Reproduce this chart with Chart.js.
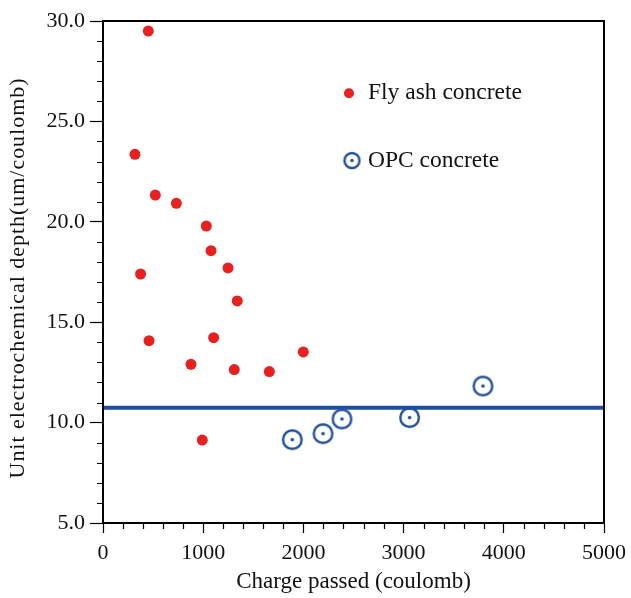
<!DOCTYPE html>
<html>
<head>
<meta charset="utf-8">
<script src="https://cdn.jsdelivr.net/npm/chart.js@4"></script>
<style>
  body { margin: 0; background: #fff; }
  canvas { display: block; }
</style>
</head>
<body>
<canvas id="myChart" width="631" height="598"></canvas>
<script>
// values
const flyAshX = [452, 319, 522, 732, 1031, 1078, 1248, 375, 1340, 459, 1104, 878, 1310, 1660, 1999, 991];
const flyAshY = [29.5, 23.36, 21.33, 20.92, 19.79, 18.56, 17.7, 17.4, 16.06, 14.08, 14.23, 12.9, 12.64, 12.54, 13.52, 9.13];
const opcX = [1889, 2196, 2385, 3060, 3792];
const opcY = [9.15, 9.45, 10.18, 10.25, 11.82];
const limitX = [0, 5000];
const limitY = [10.74, 10.74];
const seriesLabels = ['Fly ash concrete', 'OPC concrete'];
const xTitle = 'Charge passed (coulomb)';
const yTitle = 'Unit electrochemical depth(um/coulomb)';

const RED = '#e8201f';
const BLUE = '#1f4ea0';
const FONT = "'Liberation Serif', 'Times New Roman', serif";

const toPoints = (xs, ys) => xs.map((x, i) => ({ x: x, y: ys[i] }));

// ring with a dot for the OPC marker
const makeRing = (r) => {
  const c = document.createElement('canvas');
  const s = Math.ceil(r * 2 + 4);
  c.width = s; c.height = s;
  const g = c.getContext('2d');
  g.strokeStyle = BLUE;
  g.lineWidth = 2.4;
  g.beginPath();
  g.arc(s / 2, s / 2, r, 0, Math.PI * 2);
  g.stroke();
  g.fillStyle = BLUE;
  g.beginPath();
  g.arc(s / 2, s / 2, 1.8, 0, Math.PI * 2);
  g.fill();
  return c;
};
const ring = makeRing(9.3);
const legendRing = makeRing(7.5);

const frameAndTicks = {
  id: 'frameAndTicks',
  afterDraw(chart) {
    const ctx = chart.ctx;
    const a = chart.chartArea;
    const xs = chart.scales.x, ys = chart.scales.y;
    ctx.save();
    ctx.strokeStyle = '#000';
    ctx.lineWidth = 2;
    ctx.strokeRect(a.left, a.top, a.right - a.left, a.bottom - a.top);
    ctx.lineWidth = 1.2;
    ctx.beginPath();
    for (let v = 5; v <= 30; v += 1) {
      if (v % 5 === 0) continue;
      const y = Math.round(ys.getPixelForValue(v)) + 0.5;
      ctx.moveTo(a.left - 6, y); ctx.lineTo(a.left, y);
    }
    for (let v = 0; v <= 5000; v += 200) {
      if (v % 1000 === 0) continue;
      const x = Math.round(xs.getPixelForValue(v)) + 0.5;
      ctx.moveTo(x, a.bottom); ctx.lineTo(x, a.bottom + 6);
    }
    ctx.stroke();

    // y title, stretched along its length like the original
    ctx.fillStyle = '#111';
    ctx.font = '22px ' + FONT;
    const w = ctx.measureText(yTitle).width;
    if ('letterSpacing' in ctx) ctx.letterSpacing = ((400 - w) / (yTitle.length - 1)).toFixed(2) + 'px';
    ctx.translate(24, 278);
    ctx.rotate(-Math.PI / 2);
    ctx.textAlign = 'center';
    ctx.textBaseline = 'alphabetic';
    ctx.fillText(yTitle, 0, 0);
    ctx.restore();

    // legend inside the plot
    ctx.save();
    const lx = xs.getPixelForValue(2455), l1 = ys.getPixelForValue(26.4), l2 = ys.getPixelForValue(23.05);
    ctx.fillStyle = RED;
    ctx.beginPath();
    ctx.arc(lx, l1, 5, 0, Math.PI * 2);
    ctx.fill();
    ctx.drawImage(legendRing, lx + 3 - legendRing.width / 2, l2 - legendRing.height / 2);
    ctx.fillStyle = '#111';
    ctx.font = '23.5px ' + FONT;
    ctx.textBaseline = 'middle';
    ctx.fillText(seriesLabels[0], lx + 19, l1);
    ctx.fillText(seriesLabels[1], lx + 19, l2);
    ctx.restore();
  }
};

new Chart(document.getElementById('myChart').getContext('2d'), {
  type: 'scatter',
  data: {
    datasets: [
      {
        label: 'limit',
        type: 'line',
        data: toPoints(limitX, limitY),
        borderColor: BLUE,
        borderWidth: 4,
        pointRadius: 0,
        order: 3
      },
      {
        label: seriesLabels[0],
        data: toPoints(flyAshX, flyAshY),
        backgroundColor: RED,
        borderColor: RED,
        borderWidth: 0,
        pointRadius: 5.5,
        order: 1
      },
      {
        label: seriesLabels[1],
        data: toPoints(opcX, opcY),
        pointStyle: ring,
        pointRadius: 10,
        order: 2
      }
    ]
  },
  options: {
    responsive: false,
    animation: false,
    layout: { padding: { left: 0, top: 21, right: 27, bottom: 0 } },
    plugins: {
      legend: { display: false },
      tooltip: { enabled: false }
    },
    scales: {
      x: {
        type: 'linear',
        min: 0, max: 5000,
        afterFit: (s) => { s.height = 75; s.paddingLeft = 0; s.paddingRight = 0; },
        ticks: {
          stepSize: 200,
          autoSkip: false,
          maxRotation: 0,
          padding: 7,
          color: '#111',
          font: { family: FONT, size: 22 },
          callback: (v) => (v % 1000 === 0 ? String(v) : '')
        },
        grid: {
          drawOnChartArea: false,
          tickLength: 10,
          tickWidth: 1.2,
          tickColor: (c) => (c.tick && c.tick.value % 1000 === 0 ? '#000' : 'rgba(0,0,0,0)')
        },
        border: { color: '#000', width: 2 },
        title: {
          display: true,
          text: xTitle,
          color: '#111',
          font: { family: FONT, size: 23 },
          padding: { top: 0, bottom: 2 }
        }
      },
      y: {
        type: 'linear',
        min: 5, max: 30,
        afterFit: (s) => { s.width = 103; s.paddingTop = 0; s.paddingBottom = 0; },
        ticks: {
          stepSize: 1,
          autoSkip: false,
          padding: 5,
          color: '#111',
          font: { family: FONT, size: 22 },
          callback: (v) => (v % 5 === 0 ? v.toFixed(1) : '')
        },
        grid: {
          drawOnChartArea: false,
          tickLength: 13,
          tickWidth: 1.2,
          tickColor: (c) => (c.tick && c.tick.value % 5 === 0 ? '#000' : 'rgba(0,0,0,0)')
        },
        border: { color: '#000', width: 2 }
      }
    }
  },
  plugins: [frameAndTicks]
});
</script>
</body>
</html>
